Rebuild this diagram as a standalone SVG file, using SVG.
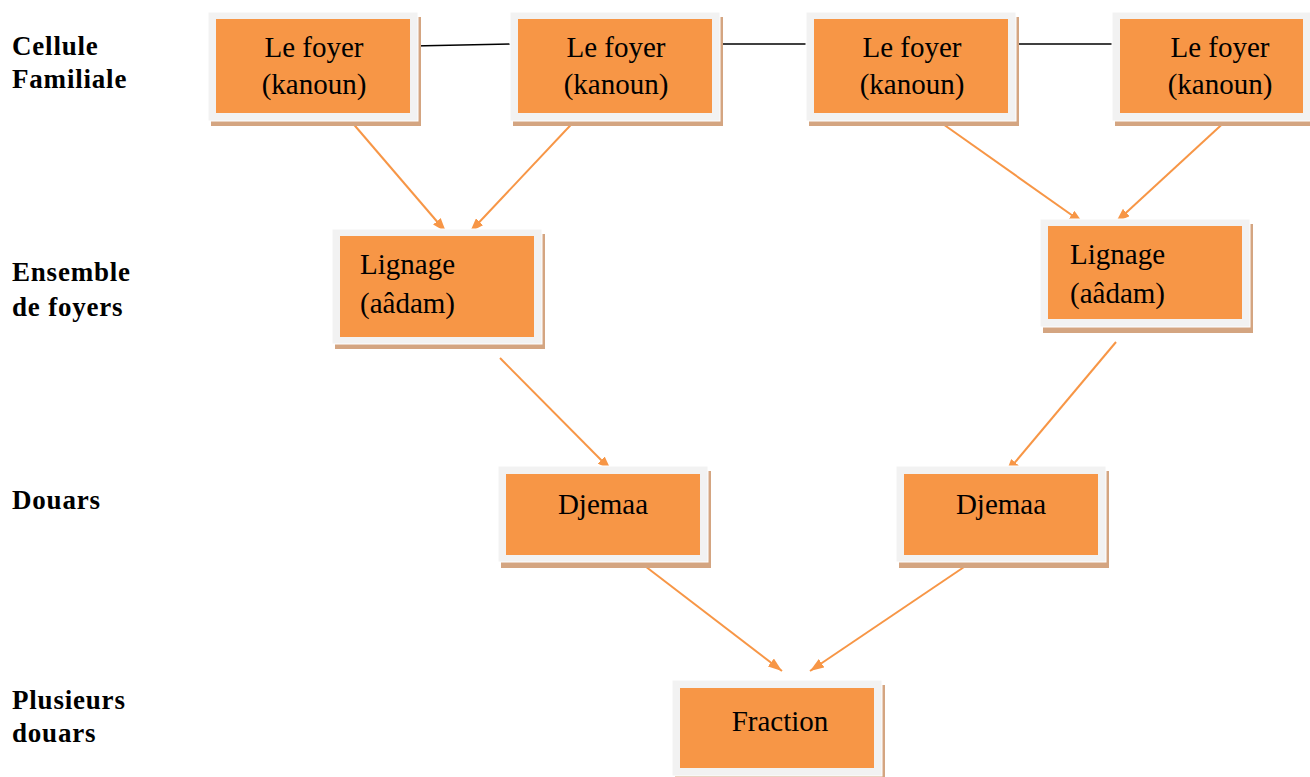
<svg xmlns="http://www.w3.org/2000/svg" width="1310" height="777" viewBox="0 0 1310 777">
<defs>
<marker id="ah" viewBox="0 0 14 10" refX="14" refY="5" markerWidth="14" markerHeight="10" markerUnits="userSpaceOnUse" orient="auto">
<path d="M0,0 L14,5 L0,10 z" fill="#f79646"/>
</marker>
</defs>
<style>
.sh{fill:#d4a581}
.out{fill:#f2f2f2;stroke:#ffffff;stroke-width:1}
.in{fill:#f79646}
.t{font-family:"Liberation Serif",serif;font-size:29px;fill:#000}
.c{text-anchor:middle}
.lab{font-family:"Liberation Serif",serif;font-size:27px;font-weight:bold;fill:#000;letter-spacing:0.8px}
.ar{stroke:#f79646;stroke-width:2;fill:none;marker-end:url(#ah)}
.bl{stroke:#000;stroke-width:1.5;fill:none}
</style>
<rect width="1310" height="777" fill="#ffffff"/>
<g id="labels">
<text class="lab" x="12" y="55">Cellule</text>
<text class="lab" x="12" y="88">Familiale</text>
<text class="lab" x="12" y="281">Ensemble</text>
<text class="lab" x="12" y="316">de foyers</text>
<text class="lab" x="12" y="509">Douars</text>
<text class="lab" x="12" y="709">Plusieurs</text>
<text class="lab" x="12" y="742">douars</text>
</g>
<g id="connectors">
<line class="bl" x1="413" y1="46" x2="515" y2="44"/>
<line class="bl" x1="715" y1="44" x2="810" y2="44"/>
<line class="bl" x1="1012" y1="44" x2="1116" y2="44"/>
<line class="ar" x1="344" y1="113" x2="446" y2="232"/>
<line class="ar" x1="582" y1="113" x2="470" y2="232"/>
<line class="ar" x1="933" y1="117" x2="1083" y2="223"/>
<line class="ar" x1="1230" y1="117" x2="1116" y2="222"/>
<line class="ar" x1="500" y1="358" x2="611" y2="470"/>
<line class="ar" x1="1116" y1="342" x2="1006" y2="473"/>
<line class="ar" x1="641" y1="563" x2="782" y2="671"/>
<line class="ar" x1="970" y1="563" x2="810" y2="671"/>
</g>
<g id="foyer1">
<rect class="sh" x="211" y="17" width="210" height="109"/>
<rect class="out" x="208" y="12" width="210" height="109"/>
<rect class="in" x="216" y="19" width="194" height="94"/>
<text class="t c" x="314" y="57">Le foyer</text>
<text class="t c" x="314" y="94">(kanoun)</text>
</g>
<g id="foyer2">
<rect class="sh" x="513" y="17" width="210" height="109"/>
<rect class="out" x="510" y="12" width="210" height="109"/>
<rect class="in" x="518" y="19" width="194" height="94"/>
<text class="t c" x="616" y="57">Le foyer</text>
<text class="t c" x="616" y="94">(kanoun)</text>
</g>
<g id="foyer3">
<rect class="sh" x="809" y="17" width="210" height="109"/>
<rect class="out" x="806" y="12" width="210" height="109"/>
<rect class="in" x="814" y="19" width="194" height="94"/>
<text class="t c" x="912" y="57">Le foyer</text>
<text class="t c" x="912" y="94">(kanoun)</text>
</g>
<g id="foyer4">
<rect class="sh" x="1115" y="17" width="210" height="109"/>
<rect class="out" x="1112" y="12" width="210" height="109"/>
<rect class="in" x="1120" y="19" width="183" height="94"/>
<text class="t c" x="1220" y="57">Le foyer</text>
<text class="t c" x="1220" y="94">(kanoun)</text>
</g>
<g id="lignage1">
<rect class="sh" x="335" y="234" width="210" height="115"/>
<rect class="out" x="332" y="229" width="210" height="115"/>
<rect class="in" x="340" y="236" width="194" height="101"/>
<text class="t" x="360" y="274">Lignage</text>
<text class="t" x="360" y="313">(aâdam)</text>
</g>
<g id="lignage2">
<rect class="sh" x="1043" y="224" width="210" height="109"/>
<rect class="out" x="1040" y="219" width="210" height="108"/>
<rect class="in" x="1048" y="226" width="194" height="93"/>
<text class="t" x="1070" y="264">Lignage</text>
<text class="t" x="1070" y="303">(aâdam)</text>
</g>
<g id="djemaa1">
<rect class="sh" x="501" y="471" width="210" height="97"/>
<rect class="out" x="498" y="466" width="210" height="96"/>
<rect class="in" x="506" y="474" width="194" height="81"/>
<text class="t c" x="603" y="514">Djemaa</text>
</g>
<g id="djemaa2">
<rect class="sh" x="899" y="471" width="210" height="97"/>
<rect class="out" x="896" y="466" width="210" height="96"/>
<rect class="in" x="904" y="474" width="194" height="81"/>
<text class="t c" x="1001" y="514">Djemaa</text>
</g>
<g id="fraction">
<rect class="sh" x="675" y="685" width="210" height="96"/>
<rect class="out" x="672" y="680" width="210" height="96"/>
<rect class="in" x="680" y="688" width="194" height="80"/>
<text class="t c" x="780" y="731">Fraction</text>
</g>
</svg>
